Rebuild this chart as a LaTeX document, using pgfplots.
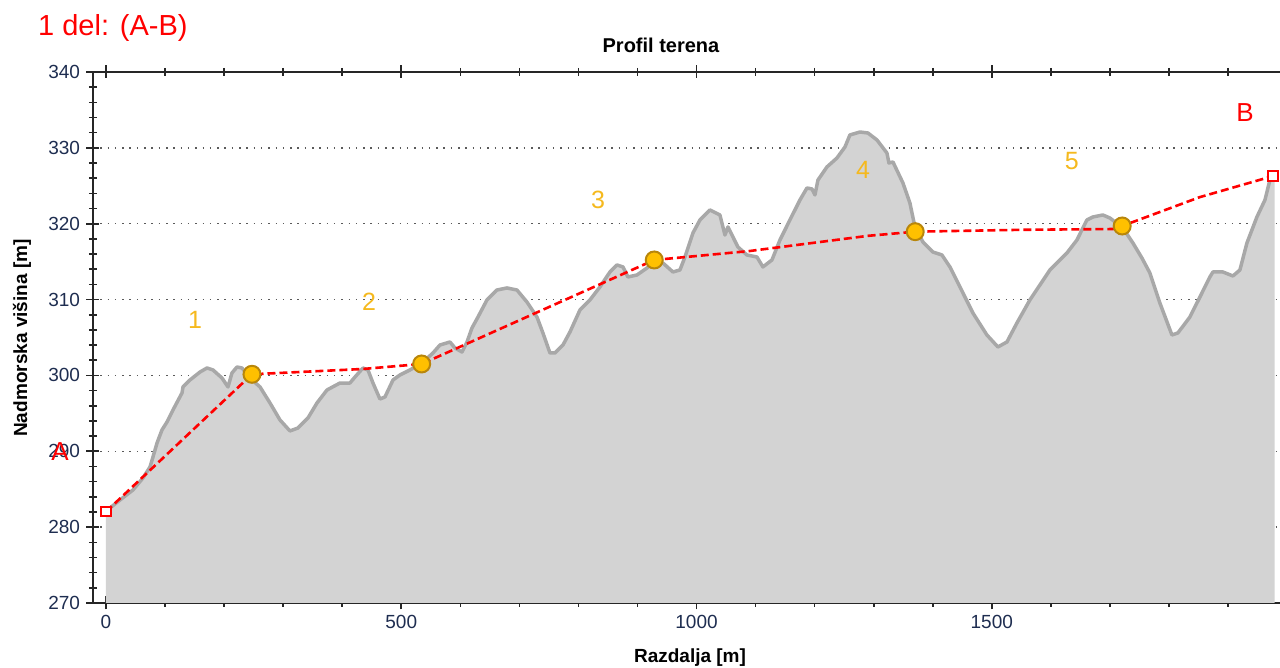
\documentclass[border=0pt]{standalone}
\usepackage{fontspec}
\setmainfont{Liberation Sans}
\usepackage{pgfplots}
\usepackage{pgfplotstable}
\pgfplotsset{compat=1.18}

\definecolor{terrainfill}{RGB}{211,211,211}
\definecolor{terrainline}{RGB}{168,168,168}
\definecolor{routered}{RGB}{255,0,0}
\definecolor{wpfill}{RGB}{255,192,0}
\definecolor{wpdraw}{RGB}{184,134,11}
\definecolor{numcol}{RGB}{245,185,30}
\definecolor{tickcol}{RGB}{30,45,80}
\definecolor{gridcol}{RGB}{90,90,90}

% terrain elevation profile (distance [m], elevation [m])
\pgfplotstableread{
x y
0 282.10
23.7 283.58
45.7 284.90
62.6 286.48
74.5 287.93
79.6 289.25
86.4 291.09
94.8 292.81
103.3 293.86
113.4 295.44
128.7 297.69
130.4 298.48
142.2 299.40
159.2 300.45
171.0 300.98
181.2 300.72
196.4 299.66
206.6 298.48
213.3 300.32
221.8 301.11
230.3 300.98
243.8 299.66
260.8 298.48
277.7 296.37
294.6 294.13
311.5 292.68
325.1 293.07
342.0 294.39
357.3 296.37
374.2 298.08
396.2 299.00
413.1 299.00
421.6 299.79
435.2 300.98
443.6 300.72
452.1 299.00
463.9 296.89
472.4 297.16
486.0 299.40
497.8 300.06
514.7 300.72
535.1 301.64
553.7 302.96
565.5 304.01
582.5 304.41
590.9 303.62
602.8 303.09
611.3 304.41
619.7 306.25
629.9 307.70
645.1 309.95
662.0 311.26
679.0 311.53
695.9 311.26
712.8 309.68
729.8 307.70
739.9 305.59
751.8 302.96
760.3 302.96
773.8 304.01
785.7 305.73
802.6 308.63
819.5 309.95
836.4 311.66
853.4 313.64
865.2 314.56
875.4 314.30
883.8 312.98
899.1 313.24
916.0 314.16
927.9 314.95
943.1 314.82
960.0 313.64
971.9 313.90
980.4 315.61
993.9 318.78
1005.8 320.49
1022.7 321.81
1039.6 321.15
1048.1 318.51
1053.2 319.57
1070.1 316.93
1085.3 315.88
1102.3 315.61
1112.4 314.30
1127.7 315.22
1141.2 317.85
1158.1 320.49
1175.1 323.13
1187.0 324.71
1195.4 324.58
1200.5 323.79
1205.6 325.76
1220.8 327.48
1237.7 328.66
1251.3 330.11
1259.7 331.70
1276.7 332.09
1290.2 331.96
1305.5 331.04
1322.4 329.32
1325.8 328.00
1332.6 328.14
1349.5 325.37
1361.3 322.73
1369.8 319.57
1383.4 317.59
1400.3 316.27
1415.5 315.88
1429.1 314.30
1451.1 310.87
1468.0 308.23
1491.7 305.33
1510.3 303.75
1525.6 304.41
1542.5 306.91
1564.5 309.95
1598.4 313.90
1627.2 316.14
1644.1 317.85
1661.0 320.49
1671.2 320.89
1688.1 321.15
1700.0 320.75
1722.0 319.44
1738.9 317.46
1754.2 315.48
1767.7 313.50
1784.6 309.55
1805.0 305.33
1815.1 305.60
1835.4 307.70
1852.4 310.34
1869.3 312.98
1874.4 313.64
1891.3 313.64
1908.3 313.11
1920.1 313.90
1932.0 317.46
1948.9 320.89
1962.5 323.13
1970.9 325.76
1976.0 326.16
1979.0 326.30
}\terrain

% planned route through the waypoints
\pgfplotstableread{
x y
0 282.04
247.2 300.15
435.0 300.85
534.5 301.51
928.4 315.22
1090.0 316.40
1290.0 318.40
1370.3 318.95
1553.0 319.20
1705.0 319.30
1720.8 319.70
1852.0 323.50
1976.5 326.29
}\route

\pgfplotstableread{
x y
247.2 300.15
534.5 301.51
928.4 315.22
1370.3 318.95
1720.8 319.70
}\waypoints

\pgfplotstableread{
x y
0 282.04
1976.5 326.29
}\endpoints

\begin{document}
\begin{tikzpicture}
\begin{axis}[
  at={(0pt,0pt)}, anchor=south west,
  scale only axis, width=1187pt, height=531pt,
  xmin=-22, xmax=1988, ymin=270, ymax=340,
  axis x line=box, axis y line=left,
  axis line style={-, line width=1.6pt, black!85},
  xtick={0,500,1000,1500},
  minor xtick={100,200,300,400,600,700,800,900,1100,1200,1300,1400,1600,1700,1800,1900},
  ytick={270,280,...,340},
  minor ytick={272,274,...,338},
  xticklabel pos=lower,
  tick align=center,
  major tick length=13pt, minor tick length=8pt,
  every tick/.style={black!85, line width=1.6pt},
  /pgf/number format/assume math mode=true,
  /pgf/number format/1000 sep={},
  ticklabel style={font=\fontsize{19}{22}\selectfont, text=tickcol},
  yticklabel style={xshift=-3pt},
  xticklabel style={yshift=-2pt},
  ymajorgrids,
  grid style={gridcol, line width=1.5pt, dash pattern=on 1.5pt off 5.8pt},
  clip=true,
]
\addplot[fill=terrainfill, draw=none] table {\terrain} \closedcycle;
\addplot[draw=terrainline, line width=3.5pt, line join=round] table {\terrain};
\addplot[routered, line width=2.6pt, dash pattern=on 8pt off 4pt] table {\route};
\addplot[only marks, mark=*, mark size=8.5pt,
  mark options={fill=wpfill, draw=wpdraw, line width=2pt}] table {\waypoints};
\addplot[only marks, mark=square*, mark size=4.8pt,
  mark options={fill=white, draw=routered, line width=2pt}] table {\endpoints};

\node[text=numcol, font=\fontsize{25}{28}\selectfont] at (axis cs:150.7,307.3) {1};
\node[text=numcol, font=\fontsize{25}{28}\selectfont] at (axis cs:445.3,309.7) {2};
\node[text=numcol, font=\fontsize{25}{28}\selectfont] at (axis cs:833.1,323.1) {3};
\node[text=numcol, font=\fontsize{25}{28}\selectfont] at (axis cs:1281.8,327.1) {4};
\node[text=numcol, font=\fontsize{25}{28}\selectfont] at (axis cs:1635.6,328.3) {5};
\node[text=routered, font=\fontsize{26}{30}\selectfont] at (axis cs:1928.6,334.6) {B};
\end{axis}

\node[font=\bfseries\fontsize{20}{24}\selectfont] at (568pt,558pt) {Profil terena};
\node[font=\bfseries\fontsize{19}{22}\selectfont] at (597pt,-55pt) {Razdalja [m]};
\node[font=\bfseries\fontsize{19}{22}\selectfont, rotate=90] at (-71pt,265pt) {Nadmorska višina [m]};
\node[text=routered, font=\fontsize{29}{34}\selectfont, anchor=west, inner sep=0pt] at (-55pt,575pt) {1 del: (A-B)};
\node[text=routered, font=\fontsize{26}{30}\selectfont] at (-33pt,151pt) {A};

\pgfresetboundingbox
\path[use as bounding box] (-93pt,-65pt) rectangle (1187pt,603pt);
\end{tikzpicture}
\end{document}
